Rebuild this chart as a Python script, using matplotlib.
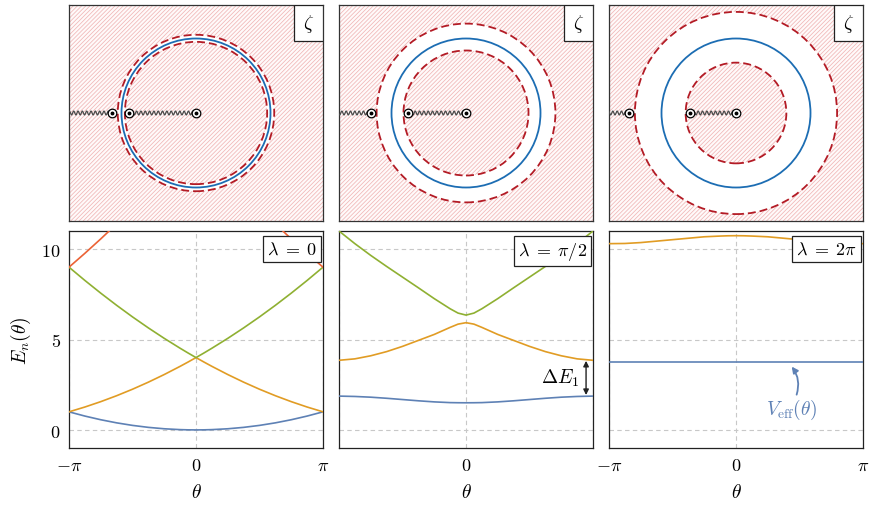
import numpy as np
import matplotlib.pyplot as plt
from matplotlib.patches import Circle, Rectangle

plt.rcParams['mathtext.fontset'] = 'cm'
plt.rcParams['font.family'] = 'serif'
plt.rcParams['font.serif'] = ['DejaVu Serif']
plt.rcParams['hatch.linewidth'] = 0.55

# zeta plane (radii in units of the blue unit circle)
blue_radius = [1.0, 1.0, 1.0]
outer_radius = [1.05, 1.20, 1.357]
inner_radius = [0.955, 0.839, 0.676]
inner_dot = [-0.898, -0.783, -0.617]
outer_dot = [-1.134, -1.275, -1.436]

# bands, sampled at |theta|/pi (curves are symmetric in theta)
t_half = [0, 0.0625, 0.125, 0.25, 0.375, 0.5, 0.625, 0.75, 0.875, 1.0]

blue_l0 = [0.0, 0.004, 0.016, 0.063, 0.141, 0.25, 0.391, 0.563, 0.766, 1.0]
orange_l0 = [4.0, 3.754, 3.516, 3.063, 2.641, 2.25, 1.891, 1.563, 1.266, 1.0]
green_l0 = [4.0, 4.254, 4.516, 5.063, 5.641, 6.25, 6.891, 7.563, 8.266, 9.0]
red_l0 = [16.0, 15.504, 15.016, 14.063, 13.141, 12.25, 11.391, 10.563, 9.766, 9.0]

blue_l1 = [1.5, 1.503, 1.51, 1.55, 1.61, 1.68, 1.75, 1.81, 1.85, 1.87]
orange_l1 = [5.93, 5.85, 5.67, 5.28, 4.95, 4.62, 4.33, 4.1, 3.93, 3.85]
green_l1 = [6.35, 6.46, 6.7, 7.26, 7.86, 8.45, 9.04, 9.65, 10.3, 11.0]

blue_l2 = [3.76, 3.76, 3.76, 3.76, 3.76, 3.76, 3.76, 3.76, 3.76, 3.76]
orange_l2 = [10.74, 10.735, 10.72, 10.68, 10.6, 10.52, 10.44, 10.36, 10.31, 10.3]

panel_labels = [r'$\lambda\;=\;0$', r'$\lambda\;=\;\pi/2$', r'$\lambda\;=\;2\pi$']

c_blue = '#5e81b5'
c_orange = '#e19c24'
c_green = '#8fb032'
c_red = '#eb6235'


def mirror(vals):
    return np.array(vals[::-1] + vals[1:])


theta = np.pi * np.array([-v for v in t_half[::-1]] + t_half[1:])

bands = [
    [(blue_l0, c_blue), (orange_l0, c_orange), (green_l0, c_green), (red_l0, c_red)],
    [(blue_l1, c_blue), (orange_l1, c_orange), (green_l1, c_green)],
    [(blue_l2, c_blue), (orange_l2, c_orange)],
]

fig = plt.figure(figsize=(8.81, 5.10), dpi=100)
W, H = 881, 510
lefts = [69, 339, 609]
pw = 254

# top row: zeta plane
scale = 74.5
xr = 127 / scale
yr = 108 / scale
hatch_col = '#f0b6b6'
for k in range(3):
    ax = fig.add_axes([lefts[k] / W, 1 - 222 / H, pw / W, 216 / H])
    ax.set_xlim(-xr, xr)
    ax.set_ylim(-yr, yr)
    ax.set_xticks([])
    ax.set_yticks([])
    for s in ax.spines.values():
        s.set_color('#333333')
        s.set_linewidth(0.9)

    ax.add_patch(Rectangle((-xr, -yr), 2 * xr, 2 * yr, facecolor='#fffafa',
                           edgecolor=hatch_col, hatch='////////', linewidth=0, zorder=0.5))
    ax.add_patch(Circle((0, 0), outer_radius[k], facecolor='white',
                        edgecolor='none', linewidth=0, zorder=1))
    ax.add_patch(Circle((0, 0), inner_radius[k], facecolor='#fffafa',
                        edgecolor=hatch_col, hatch='////////', linewidth=0, zorder=1.5))

    ax.add_patch(Circle((0, 0), blue_radius[k], fill=False, edgecolor='#1c6db3',
                        linewidth=1.3, zorder=3))
    for r in (outer_radius[k], inner_radius[k]):
        ax.add_patch(Circle((0, 0), r, fill=False, edgecolor='#b31b25',
                            linewidth=1.3, linestyle=(0, (4.4, 2.2)), zorder=3))

    # branch cuts (wavy)
    period = 0.058
    amp = 0.026
    for x0, x1 in ((inner_dot[k], 0.0), (-xr, outer_dot[k])):
        xs = np.linspace(x0, x1, 800)
        ys = amp * np.sin(2 * np.pi * (xs - x1) / period)
        ax.plot(xs, ys, color='#4a4a4a', linewidth=0.9, zorder=4)

    for xd in (0.0, inner_dot[k], outer_dot[k]):
        ax.plot(xd, 0, 'o', markersize=6.2, markerfacecolor='white',
                markeredgecolor='black', markeredgewidth=0.9, zorder=5)
        ax.plot(xd, 0, 'o', markersize=1.8, color='black', zorder=6)

    ax.add_patch(Rectangle((1 - 29 / pw, 1 - 36 / 216), 29 / pw, 36 / 216,
                           transform=ax.transAxes, facecolor='white',
                           edgecolor='#222222', linewidth=0.9, zorder=7))
    ax.text(1 - 14.5 / pw, 1 - 18 / 216, r'$\zeta$', transform=ax.transAxes,
            ha='center', va='center', fontsize=14, zorder=8)

# bottom row: bands
bottom_axes = []
for k in range(3):
    ax = fig.add_axes([lefts[k] / W, 1 - 449 / H, pw / W, 217 / H])
    bottom_axes.append(ax)
    ax.set_xlim(-np.pi, np.pi)
    ax.set_ylim(-1, 11)
    ax.set_xticks([-np.pi, 0, np.pi])
    ax.set_yticks([0, 5, 10])
    ax.grid(True, color='#c8c8c8', linestyle=(0, (4, 3)), linewidth=0.8)
    ax.set_axisbelow(True)
    ax.tick_params(length=0, labelsize=13, pad=6)
    for s in ax.spines.values():
        s.set_color('#222222')
        s.set_linewidth(0.9)
    for vals, col in bands[k]:
        ax.plot(theta, mirror(vals), color=col, linewidth=1.2, zorder=3)
    if k == 1:
        ax.set_xticklabels(['', r'$0$', ''])
    else:
        ax.set_xticklabels([r'$-\pi$', r'$0$', r'$\pi$'])
    if k == 0:
        ax.set_yticklabels([r'$0$', r'$5$', r'$10$'])
        ax.set_ylabel(r'$E_n(\theta)$', fontsize=14, labelpad=6)
    else:
        ax.set_yticklabels([])
    ax.set_xlabel(r'$\theta$', fontsize=14, labelpad=6)
    ax.text(0.975, 0.96, panel_labels[k], transform=ax.transAxes, ha='right',
            va='top', fontsize=13, zorder=10,
            bbox=dict(boxstyle='square,pad=0.22', facecolor='white',
                      edgecolor='#222222', linewidth=0.9))

# annotations
ax = bottom_axes[1]
ax.annotate('', xy=(2.97, 3.82), xytext=(2.97, 1.93),
            arrowprops=dict(arrowstyle='<|-|>', color='#222222', linewidth=1.0,
                            mutation_scale=8, shrinkA=0, shrinkB=0), zorder=5)
ax.text(2.33, 2.89, r'$\Delta E_1$', ha='center', va='center', fontsize=14)

ax = bottom_axes[2]
ax.annotate('', xy=(1.378, 3.5), xytext=(1.50, 1.95),
            arrowprops=dict(arrowstyle='-|>', color=c_blue, linewidth=1.3,
                            mutation_scale=9, shrinkA=0, shrinkB=0,
                            connectionstyle='arc3,rad=0.25'), zorder=5)
ax.text(1.378, 1.17, r'$V_{\rm eff}(\theta)$', ha='center', va='center',
        fontsize=14, color=c_blue)

fig.savefig('out.png', dpi=100)
